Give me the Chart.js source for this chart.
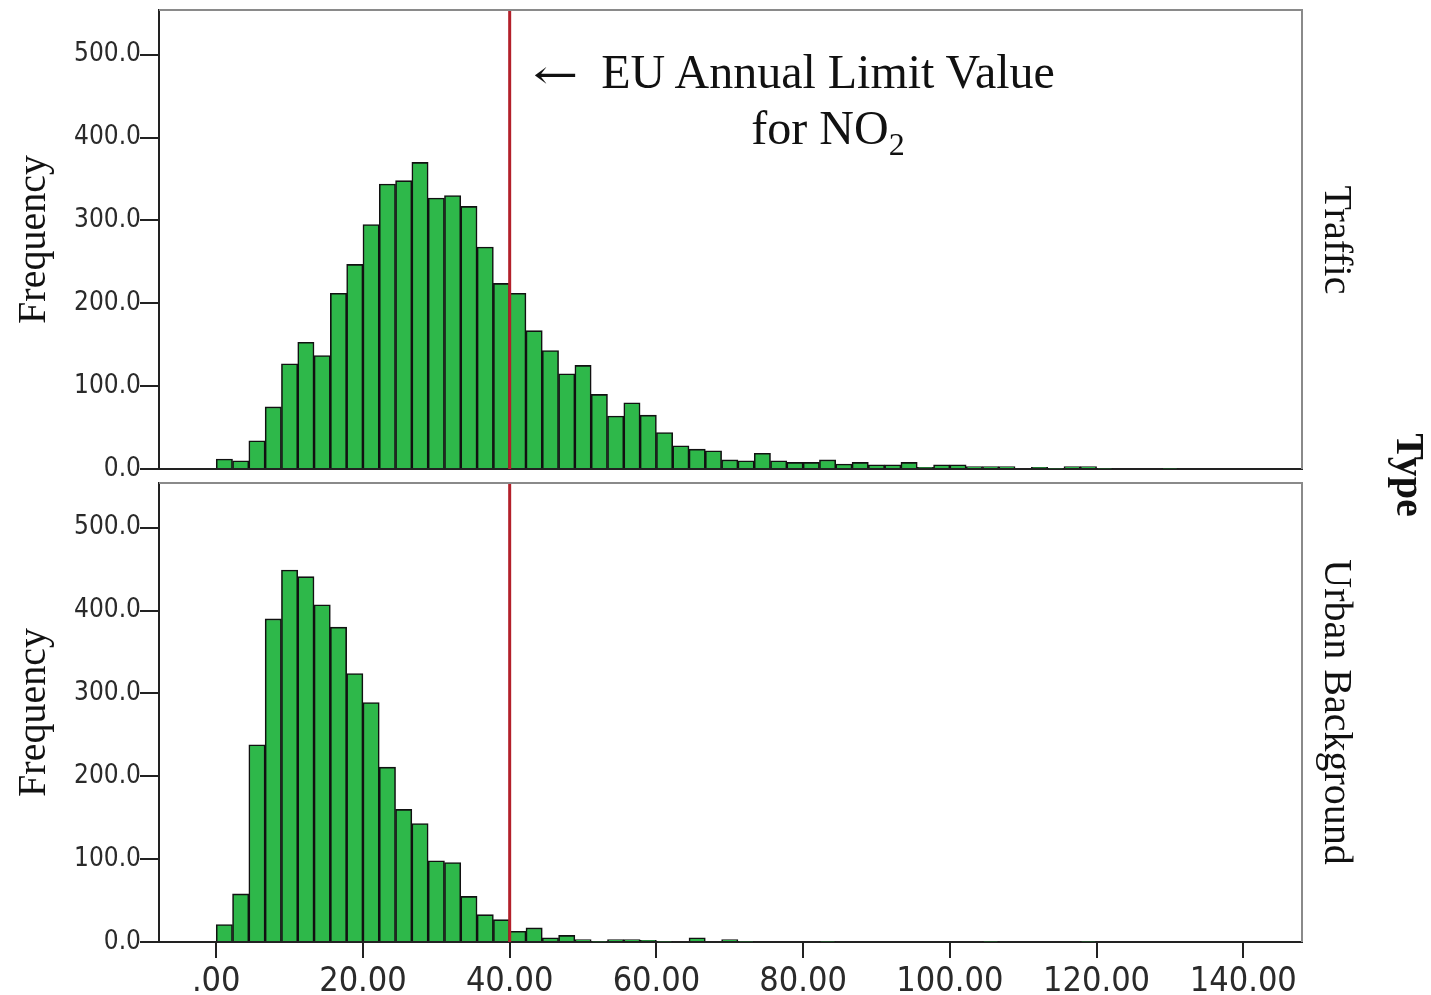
<!DOCTYPE html>
<html>
<head>
<meta charset="utf-8">
<title>NO2 histogram by site type</title>
<script src="https://cdn.jsdelivr.net/npm/chart.js@4"></script>
<style>
    body { margin: 0; background: #fff; }
    #page { position: relative; width: 1431px; height: 995px; overflow: hidden; }
    .panel { position: absolute; left: 0; width: 1431px; }
    .side { position: absolute; writing-mode: vertical-rl; transform: translate(-50%, -50%);
            font-family: 'Liberation Serif', 'Times New Roman', serif; font-size: 40px; color: #111; white-space: nowrap; }
    .note { position: absolute; font-family: 'Liberation Serif', 'Times New Roman', serif; font-size: 48px; color: #111; white-space: nowrap; }
    .note sub { font-size: 32px; vertical-align: -11px; line-height: 0; }
    .arrow { display: inline-block; transform: scaleX(1.35); transform-origin: left center;
             font-family: 'DejaVu Serif', serif; font-size: 40px; }
</style>
</head>
<body>
<div id="page">
    <div class="panel" style="top:0;height:476px"><canvas id="trafficChart"></canvas></div>
    <div class="panel" style="top:476px;height:519px"><canvas id="urbanChart"></canvas></div>

    <div class="note" style="left:533px;top:44px;line-height:56px"><span class="arrow">&larr;</span></div>
    <div class="note" style="left:578px;top:44px;width:500px;text-align:center;line-height:56px">EU Annual Limit Value<br>for NO<sub>2</sub></div>

    <div class="side" style="left:1338px;top:240px">Traffic</div>
    <div class="side" style="left:1338px;top:712px">Urban Background</div>
    <div class="side" style="left:1410px;top:475px;font-weight:bold">Type</div>
</div>

<script>
// histogram bins (SPSS default width 20/9)
const BIN_WIDTH = 20 / 9;
const TRAFFIC_COUNTS = [12, 10, 34, 75, 127, 153, 137, 212, 247, 295,
    344, 348, 370, 327, 330, 317, 268, 224, 212, 167,
    143, 115, 125, 90, 64, 80, 65, 44, 28, 24,
    22, 11, 10, 19, 10, 8, 8, 11, 6, 8,
    5, 5, 8, 2, 5, 5, 3, 3, 3, 0,
    2, 1, 3, 3, 1, 0, 0, 0, 1];
const URBAN_COUNTS = [21, 58, 238, 390, 449, 441, 407, 380, 324, 289,
    211, 160, 143, 98, 96, 55, 33, 27, 13, 17,
    5, 8, 3, 1, 3, 3, 2, 1, 0, 5,
    0, 3, 1, 0, 0, 0, 0, 1, 0, 0,
    0, 0, 0, 0, 0, 0, 0, 1, 0, 0,
    0, 0, 0, 1];
const X_TICKS = [0, 20, 40, 60, 80, 100, 120, 140];
const Y_TICKS = [0, 100, 200, 300, 400, 500];
const LIMIT_VALUE = 40;

const X_MIN = -7.8, X_MAX = 148, Y_MAX = 554;
const BAR_GREEN = '#2eb84a';
const LIMIT_RED = '#b3202a';
const TICK_FONT = "'DejaVu Sans Condensed', 'Liberation Sans', sans-serif";

/**
 * turn bin counts into {x, y} points at the bin centres
 * @param {Array} counts frequency per bin
 */
function toPoints(counts) {
    return counts.map(function (c, i) {
        return { x: (i + 0.5) * BIN_WIDTH, y: c };
    });
}

// frame (grey top/right edges) and the red limit line
const panelDecor = {
    id: 'panelDecor',
    afterDatasetsDraw(chart) {
        const a = chart.chartArea;
        const ctx = chart.ctx;
        const lx = chart.scales.x.getPixelForValue(LIMIT_VALUE);
        ctx.save();
        ctx.strokeStyle = LIMIT_RED;
        ctx.lineWidth = 3;
        ctx.beginPath();
        ctx.moveTo(lx, a.top);
        ctx.lineTo(lx, a.bottom);
        ctx.stroke();

        ctx.strokeStyle = '#8a8a8a';
        ctx.lineWidth = 2;
        ctx.beginPath();
        ctx.moveTo(a.left, a.top);
        ctx.lineTo(a.right, a.top);
        ctx.lineTo(a.right, a.bottom);
        ctx.stroke();
        ctx.restore();
    }
};

// keep the plot box exactly where the layout padding puts it
function noLabelPadding(scale) {
    scale.paddingTop = 0;
    scale.paddingBottom = 0;
    scale.paddingLeft = 0;
    scale.paddingRight = 0;
}

/**
 * Create one panel of the histogram
 * @param {String} id canvas id
 * @param {Array} counts bin counts
 * @param {Boolean} showX draw x tick labels
 * @param {Number} padTop space above the plot area
 * @param {Number} xHeight height of the x axis box
 */
function createPanel(id, counts, showX, padTop, xHeight) {
    return new Chart(document.getElementById(id), {
        type: 'bar',
        data: {
            datasets: [{
                data: toPoints(counts),
                backgroundColor: BAR_GREEN,
                borderColor: '#111',
                borderWidth: 1.6,
                barPercentage: 1,
                categoryPercentage: 1,
            }],
        },
        options: {
            responsive: true,
            maintainAspectRatio: false,
            animation: false,
            layout: { padding: { top: padTop, right: 129, left: 0, bottom: 0 } },
            plugins: { legend: { display: false }, tooltip: { enabled: false } },
            scales: {
                x: {
                    type: 'linear',
                    min: X_MIN,
                    max: X_MAX,
                    offset: false,
                    afterBuildTicks: function (scale) {
                        scale.ticks = X_TICKS.map(v => ({ value: v }));
                    },
                    afterFit: function (scale) {
                        scale.height = xHeight;
                        noLabelPadding(scale);
                    },
                    border: { display: true, color: '#222', width: 2 },
                    grid: {
                        display: showX,
                        offset: false,
                        drawOnChartArea: false,
                        drawTicks: true,
                        tickLength: 16,
                        color: '#222',
                        lineWidth: 2,
                    },
                    ticks: {
                        display: showX,
                        padding: 4,
                        maxRotation: 0,
                        color: '#2a2a2a',
                        font: { family: TICK_FONT, size: 34 },
                        callback: function (v) { return v === 0 ? '.00' : v.toFixed(2); },
                    },
                },
                y: {
                    min: 0,
                    max: Y_MAX,
                    afterBuildTicks: function (scale) {
                        scale.ticks = Y_TICKS.map(v => ({ value: v }));
                    },
                    afterFit: function (scale) {
                        scale.width = 159;
                        noLabelPadding(scale);
                    },
                    border: { display: true, color: '#222', width: 2 },
                    grid: {
                        drawOnChartArea: false,
                        drawTicks: true,
                        tickLength: 19,
                        color: '#222',
                        lineWidth: 2,
                    },
                    ticks: {
                        padding: -1,
                        color: '#2a2a2a',
                        font: { family: TICK_FONT, size: 26 },
                        callback: function (v) { return v.toFixed(1); },
                    },
                    title: {
                        display: true,
                        text: 'Frequency',
                        color: '#111',
                        padding: { top: 10, bottom: 0 },
                        font: { family: "'Liberation Serif', 'Times New Roman', serif", size: 40, weight: 'normal' },
                    },
                },
            },
        },
        plugins: [panelDecor],
    });
}

createPanel('trafficChart', TRAFFIC_COUNTS, false, 10, 7);
createPanel('urbanChart', URBAN_COUNTS, true, 7, 53);
</script>
</body>
</html>
